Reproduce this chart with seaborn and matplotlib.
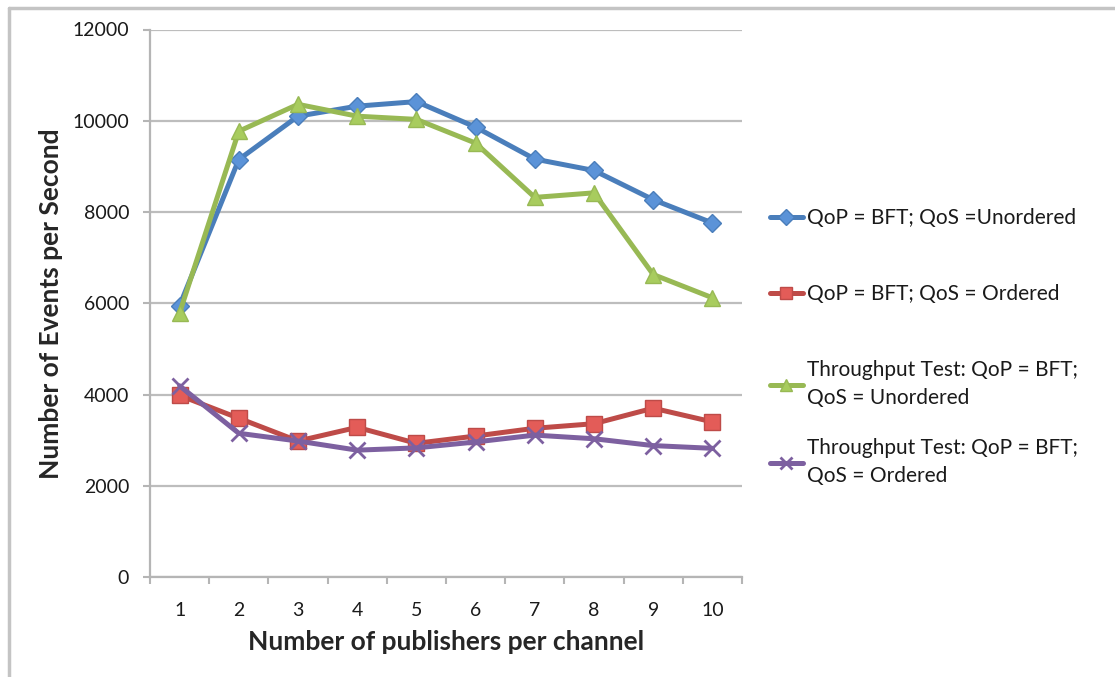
import numpy as np
import pandas as pd
import matplotlib
matplotlib.use("Agg")
import matplotlib.pyplot as plt
from matplotlib.lines import Line2D
import seaborn as sns

publishers = [1, 2, 3, 4, 5, 6, 7, 8, 9, 10]
series_names = [
    "QoP = BFT; QoS =Unordered",
    "QoP = BFT; QoS = Ordered",
    "Throughput Test: QoP = BFT;\nQoS = Unordered",
    "Throughput Test: QoP = BFT;\nQoS = Ordered",
]
bft_unordered = [5950, 9150, 10100, 10320, 10420, 9860, 9160, 8910, 8270, 7760]
bft_ordered = [3980, 3480, 2980, 3280, 2930, 3090, 3260, 3360, 3700, 3400]
tp_unordered = [5790, 9770, 10360, 10100, 10030, 9510, 8320, 8420, 6630, 6120]
tp_ordered = [4190, 3150, 2980, 2780, 2830, 2960, 3110, 3030, 2880, 2820]
y_ticks = [0, 2000, 4000, 6000, 8000, 10000, 12000]

colors = ["#4A7EBB", "#BE4B48", "#98B954", "#7D60A0"]
face = ["#5B93D8", "#E35C58", "#A8CC5E", "#8E72B3"]
markers = ["D", "s", "^", "x"]
msizes = [9, 11, 11, 11]

all_values = [bft_unordered, bft_ordered, tp_unordered, tp_ordered]

sns.set_theme(style="white")
plt.rcParams["font.family"] = ["Lato", "DejaVu Sans"]
plt.rcParams["text.color"] = "#1a1a1a"

fig = plt.figure(figsize=(11.15, 6.77), dpi=100)
ax = fig.add_axes([150 / 1115, 100 / 677, 592 / 1115, 547.5 / 677])

for i, vals in enumerate(all_values):
    d = pd.DataFrame({"pub": publishers, "val": vals})
    sns.lineplot(data=d, x="pub", y="val", color=colors[i], linewidth=3.6,
                 marker=markers[i], markersize=msizes[i],
                 markerfacecolor=face[i], markeredgecolor=colors[i],
                 markeredgewidth=(1.0 if markers[i] != "x" else 2.0),
                 label=series_names[i], ax=ax)

handles, labels = ax.get_legend_handles_labels()
if ax.get_legend() is not None:
    ax.get_legend().remove()

ax.set_xlim(0.5, 10.5)
ax.set_ylim(0, 12000)
ax.set_yticks(y_ticks)
ax.set_yticklabels([str(v) for v in y_ticks])
ax.set_xticks(publishers)
ax.set_xticklabels([str(p) for p in publishers])
ax.set_xticks(np.arange(0.5, 11, 1.0), minor=True)
ax.tick_params(axis="x", which="major", length=0, pad=18, labelsize=14, colors="#1a1a1a")
ax.tick_params(axis="x", which="minor", length=5, width=1.5, color="#b5b5b5", direction="out", bottom=True)
ax.tick_params(axis="y", which="major", length=5, width=1.5, color="#b5b5b5", direction="out", left=True, pad=10, labelsize=14, colors="#1a1a1a")

ax.grid(axis="y", color="#bdbdbd", linewidth=1.6)
ax.set_axisbelow(True)
for s in ["top", "right"]:
    ax.spines[s].set_visible(False)
for s in ["left", "bottom"]:
    ax.spines[s].set_color("#b5b5b5")
    ax.spines[s].set_linewidth(1.6)

ax.set_xlabel("Number of publishers per channel", fontsize=19, fontweight="bold", labelpad=8)
ax.set_ylabel("Number of Events per Second", fontsize=19, fontweight="bold", labelpad=6.5)

# one legend per entry, stacked at the reference's positions
legend_centers = [0.6557, 0.5169, 0.3525, 0.2100]
for i in range(4):
    leg = ax.legend([handles[i]], [labels[i]], loc="center left",
                    bbox_to_anchor=(1.047, legend_centers[i]), frameon=False,
                    fontsize=15, handlelength=1.6, handletextpad=0.2,
                    borderpad=0, borderaxespad=0, markerscale=0.85)
    for t in leg.get_texts():
        t.set_linespacing(1.45)
    if i < 3:
        ax.add_artist(leg)

# outer frame (top and left)
fig.add_artist(Line2D([9 / 1115, 1.0], [1 - 8 / 677, 1 - 8 / 677], transform=fig.transFigure,
                      color="#c4c4c4", linewidth=2.5))
fig.add_artist(Line2D([9 / 1115, 9 / 1115], [0, 1 - 8 / 677], transform=fig.transFigure,
                      color="#c4c4c4", linewidth=2.5))

fig.savefig("out.png", dpi=100)
